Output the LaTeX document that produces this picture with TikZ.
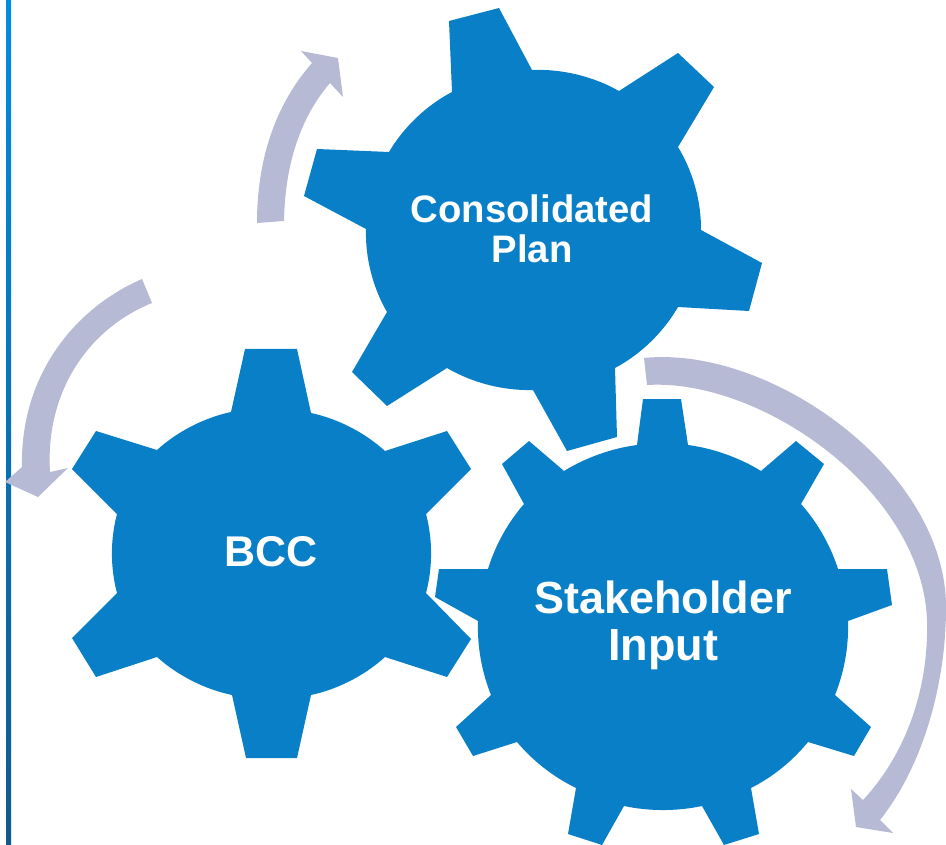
\documentclass[tikz,border=0pt]{standalone}
\usepackage{fontspec}
\setmainfont{Liberation Sans}
\definecolor{GearBlue}{RGB}{8,127,198}
\definecolor{ArrowGrey}{RGB}{183,186,212}
\definecolor{BarTop}{RGB}{0,140,225}
\definecolor{BarBottom}{RGB}{15,90,140}
\tikzset{
  gear/.style   = {fill=GearBlue},
  rim/.style    = {bend left=#1, looseness=0.85},
  turn/.style   = {fill=ArrowGrey},
  label/.style  = {text=white, align=center, inner sep=0pt}
}

\begin{document}
\begin{tikzpicture}[x=1pt, y=-1pt]
\useasboundingbox (0,0) rectangle (946,845);

% bar on the left edge
\shade[top color=BarTop, bottom color=BarBottom] (6,0) rectangle (11,845);

% first gear, BCC
\fill[gear] (245,349) -- (297,349) -- (311,413) to[rim=15] (385,451) -- (447,431) -- (471,469)
  -- (426,514) to[rim=15] (426,593) -- (471,639) -- (447,677) -- (385,657) to[rim=15] (311,695)
  -- (297,758) -- (246,758) -- (232,695) to[rim=15] (157,657) -- (96,677) -- (72,638)
  -- (117,593) to[rim=15] (117,514) -- (72,469) -- (96,431) -- (157,450) to[rim=15] (231,412) -- cycle;
\node[label, font=\fontsize{43}{47}\bfseries\selectfont] (bcc) at (271,552) {BCC};

% second gear, top
\fill[gear] (449,21) -- (499,8) -- (532,70) to[rim=16] (619,91) -- (678,53) -- (714,87)
  -- (678,147) to[rim=16] (701,230) -- (762,263) -- (749,311) -- (678,307) to[rim=16] (615,368)
  -- (617,437) -- (567,451) -- (533,390) to[rim=16] (447,368) -- (387,406) -- (352,372)
  -- (387,312) to[rim=16] (366,229) -- (304,196) -- (317,149) -- (389,152) to[rim=16] (452,92) -- cycle;
\node[label, font=\fontsize{38.3}{40}\bfseries\selectfont] (plan) at (532,229) {Consolidated\\Plan};

% third gear, bottom right
\fill[gear] (643,399) -- (681,399) -- (688,445) to[rim=12] (761,471) -- (796,441) -- (824,464)
  -- (801,504) to[rim=12] (838,569) -- (887,569) -- (892,605) -- (848,621) to[rim=12] (835,695)
  -- (871,727) -- (854,756) -- (808,742) to[rim=12] (751,788) -- (759,834) -- (724,845)
  -- (702,806) to[rim=12] (624,806) -- (602,845) -- (568,834) -- (576,788) to[rim=12] (517,742)
  -- (473,756) -- (456,727) -- (491,695) to[rim=12] (478,621) -- (435,597) -- (439,569)
  -- (488,569) to[rim=12] (524,504) -- (502,464) -- (529,441) -- (564,471) to[rim=12] (637,445) -- cycle;
\node[label, font=\fontsize{45}{47}\bfseries\selectfont] (input) at (663,625) {Stakeholder\\Input};

% arrows between the gears
\fill[turn] (257,223) .. controls (257,160) and (275,105) .. (312,63)
  -- (301,51) -- (338,58) -- (343,97) -- (330,83)
  .. controls (300,118) and (285,165) .. (284,221) -- cycle;
\fill[turn] (142,279) .. controls (75,308) and (20,375) .. (22,467)
  -- (5,482) -- (38,497) -- (68,468) -- (50,472)
  .. controls (45,390) and (90,328) .. (152,303) -- cycle;
\fill[turn] (644,358) .. controls (770,345) and (946,470) .. (946,607)
  .. controls (946,690) and (920,770) .. (880,820)
  -- (893,833) -- (856,827) -- (851,789) -- (863,800)
  .. controls (905,755) and (929,690) .. (927,620)
  .. controls (922,490) and (760,378) .. (647,385) -- cycle;

\end{tikzpicture}
\end{document}
